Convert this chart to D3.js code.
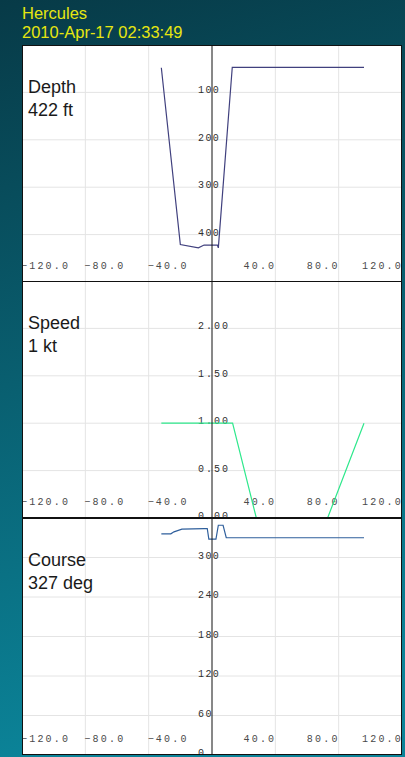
<!DOCTYPE html>
<html>
<head>
<meta charset="utf-8">
<script src="https://cdn.jsdelivr.net/npm/d3@7"></script>
<style>
  html, body { margin: 0; padding: 0; }
  body { width: 405px; height: 757px; overflow: hidden; }
  svg { display: block; }
</style>
</head>
<body>
<div id="chart"></div>
<script>
// Dive log strip chart: depth / speed / course against time (x)
const title = "Hercules";
const timestamp = "2010-Apr-17 02:33:49";

const xTicks = [-120, -80, -40, 40, 80, 120];

const depthTime = [-32, -20, -8.6, -5, 3.4, 4, 12.8, 96];
const depthValues = [48, 421, 428, 422, 422, 428, 47, 47];
const depthTicks = [100, 200, 300, 400];

const speedTime = [-32, 13, 28, 73, 96];
const speedValues = [1.0, 1.0, 0, 0, 1.0];
const speedTicks = [0, 0.5, 1.0, 1.5, 2.0];

const courseTime = [-32, -26, -24, -19, -5, -3, -2, 2.5, 4, 7, 9, 96];
const courseValues = [336, 336, 339, 343, 344, 344, 328, 328, 349, 349, 330, 330];
const courseTicks = [0, 60, 120, 180, 240, 300];

const panels = [
  { name: "Depth", reading: "422 ft", time: depthTime, values: depthValues, ticks: depthTicks,
    domain: [500, 0], fmt: d3.format("d"), color: "#40407e" },
  { name: "Speed", reading: "1 kt", time: speedTime, values: speedValues, ticks: speedTicks,
    domain: [0, 2.5], fmt: d3.format(".2f"), color: "#2ee88c" },
  { name: "Course", reading: "327 deg", time: courseTime, values: courseValues, ticks: courseTicks,
    domain: [0, 360], fmt: d3.format("d"), color: "#2f5f9c" },
];

const width = 405, height = 757;
const left = 22, right = 402;
const panelTops = [45, 281, 518];
const panelH = 237;

const svg = d3.select("#chart").append("svg")
  .attr("width", width)
  .attr("height", height);

const defs = svg.append("defs");
const grad = defs.append("linearGradient")
  .attr("id", "bg")
  .attr("x1", 0).attr("y1", 0).attr("x2", 0.15).attr("y2", 1);
grad.append("stop").attr("offset", "0%").attr("stop-color", "#073a47");
grad.append("stop").attr("offset", "50%").attr("stop-color", "#095f70");
grad.append("stop").attr("offset", "100%").attr("stop-color", "#0b8499");

svg.append("rect")
  .attr("width", width)
  .attr("height", height)
  .attr("fill", "url(#bg)");

// Header
svg.append("text")
  .attr("x", left)
  .attr("y", 19)
  .style("font", "16.5px 'Liberation Sans', Arial, sans-serif")
  .style("fill", "#e6e610")
  .text(title);
svg.append("text")
  .attr("x", left)
  .attr("y", 38)
  .style("font", "16.5px 'Liberation Sans', Arial, sans-serif")
  .style("fill", "#e6e610")
  .text(timestamp);

const x = d3.scaleLinear().domain([-120, 120]).range([left, right]);

panels.forEach((p, i) => {
  const top = panelTops[i];
  const bottom = top + panelH;
  const y = d3.scaleLinear().domain(p.domain).range([bottom, top]);

  defs.append("clipPath")
    .attr("id", `clip${i}`)
    .append("rect")
    .attr("x", left)
    .attr("y", top)
    .attr("width", right - left)
    .attr("height", panelH);

  const g = svg.append("g").attr("clip-path", `url(#clip${i})`);

  g.append("rect")
    .attr("x", left)
    .attr("y", top)
    .attr("width", right - left)
    .attr("height", panelH)
    .attr("fill", "#ffffff");

  // Grid
  xTicks.forEach((t) => {
    g.append("line")
      .attr("x1", x(t)).attr("x2", x(t))
      .attr("y1", top).attr("y2", bottom)
      .attr("stroke", "#e4e4e4")
      .attr("stroke-width", 1);
  });
  p.ticks.forEach((t) => {
    g.append("line")
      .attr("x1", left).attr("x2", right)
      .attr("y1", y(t)).attr("y2", y(t))
      .attr("stroke", "#e4e4e4")
      .attr("stroke-width", 1);
  });

  // X tick labels (negatives start at the grid line, positives end at it)
  xTicks.forEach((t) => {
    g.append("text")
      .attr("x", t < 0 ? x(t) - 1 : x(t) + 1)
      .attr("y", bottom - 13)
      .attr("text-anchor", t < 0 ? "start" : "end")
      .style("font", "10px 'Liberation Mono', 'DejaVu Sans Mono', monospace")
      .style("letter-spacing", "2.2px")
      .style("fill", "#4a4a4a")
      .text(d3.format(".1f")(t));
  });

  // Y tick labels beside the centre axis
  p.ticks.forEach((t) => {
    g.append("text")
      .attr("x", x(0) - 14)
      .attr("y", y(t) + 1)
      .style("font", "10px 'Liberation Mono', 'DejaVu Sans Mono', monospace")
      .style("letter-spacing", p.name === "Speed" ? "2px" : "1.4px")
      .style("fill", "#303030")
      .text(p.fmt(t));
  });

  // Panel name + current reading
  g.append("text")
    .attr("x", 28)
    .attr("y", top + 48)
    .style("font", "18px 'Liberation Sans', Arial, sans-serif")
    .style("fill", "#1a1a1a")
    .text(p.name);
  g.append("text")
    .attr("x", 28)
    .attr("y", top + 71)
    .style("font", "18px 'Liberation Sans', Arial, sans-serif")
    .style("fill", "#1a1a1a")
    .text(p.reading);

  // Series
  const line = d3.line()
    .x((d, k) => x(p.time[k]))
    .y((d) => y(d));
  g.append("path")
    .datum(p.values)
    .attr("d", line)
    .attr("fill", "none")
    .attr("stroke", p.color)
    .attr("stroke-width", 1.2);

  // Centre axis
  g.append("line")
    .attr("x1", x(0)).attr("x2", x(0))
    .attr("y1", top).attr("y2", bottom)
    .attr("stroke", "#111")
    .attr("stroke-width", 1);

  // Frame
  svg.append("rect")
    .attr("x", left + 0.5)
    .attr("y", top + 0.5)
    .attr("width", right - left - 1)
    .attr("height", panelH - 1)
    .attr("fill", "none")
    .attr("stroke", "#111")
    .attr("stroke-width", 1);
});
</script>
</body>
</html>
